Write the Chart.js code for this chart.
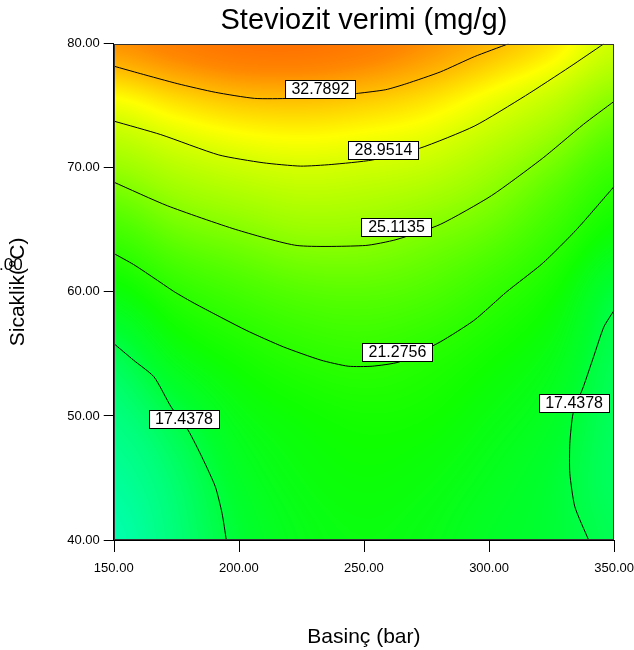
<!DOCTYPE html>
<html><head><meta charset="utf-8">
<script src="https://cdn.jsdelivr.net/npm/chart.js@4"></script>
<style>html,body{margin:0;padding:0;background:#fff;}#wrap{width:634px;height:650px;position:relative}</style>
</head><body><div id="wrap"><canvas id="c" width="634" height="650"></canvas></div>
<script>
// ---- data ----
const pressure = [150,175,200,225,250,275,300,325,350];      // Basinç (bar)
const temperature = [40,45,50,55,60,65,70,75,80];            // Sicaklik (°C)
const yieldRow40 = [14.0,16.0,17.8,18.9,19.3,19.0,18.3,17.8,17.0];
const yieldRow45 = [14.8,16.4,18.3,19.3,19.7,19.4,18.7,17.9,16.7];
const yieldRow50 = [15.8,17.4,19.1,19.9,20.3,20.1,19.3,18.4,16.8];
const yieldRow55 = [17.1,19.2,20.4,21.25,21.6,21.1,20.2,19.1,17.1];
const yieldRow60 = [19.5,21.3,22.4,23.2,23.4,22.9,21.7,20.2,17.7];
const yieldRow65 = [22.5,24.2,25.1,25.9,25.8,25.0,23.9,22.0,19.8];
const yieldRow70 = [25.9,27.4,28.4,28.9,28.6,28.0,26.4,24.3,22.0];
const yieldRow75 = [29.9,31.3,32.2,32.4,32.0,31.2,29.6,27.6,24.9];
const yieldRow80 = [34.5,35.6,36.5,36.6,35.9,34.6,33.1,31.4,28.5];

const xTicks = [150,200,250,300,350];
const yTicks = [40,50,60,70,80];

const c1Level = '32.7892';
const c1x = [150,160.6,175.6,190.6,206.3,220.6,239.6,247.8,258.7,266.9,280.5,294.1,307.8];
const c1y = [78.2,77.6,76.78,76.09,75.6,75.6,75.82,76.01,76.3,76.78,77.73,78.96,80];
const c2Level = '28.9514';
const c2x = [150,168.8,192,209.7,224.7,236.9,253.3,272.3,294.1,314.6,332.3,345.9];
const c2y = [73.77,72.68,71.04,70.41,70.14,70.27,70.63,71.58,73.36,75.82,78.14,80];
const c3Level = '25.1135';
const c3x = [150,171.5,198.8,223.3,250.5,262.8,280.5,301,321.4,337.7,350];
const c3y = [68.85,66.94,65.03,63.74,63.74,64.21,65.44,67.76,70.77,73.5,75.36];
const c4Level = '21.2756';
const c4x = [150,158,167.4,174.3,182.4,202.9,217.8,232.8,243.7,253.3,264.2,280.5,294.1,307,321.4,335,350];
const c4y = [63.1,62.2,60.94,60.0,59.06,56.91,55.57,54.5,54.01,54.01,54.36,55.97,57.72,60.0,62.3,65.03,68.5];
const c5Level = '17.4378';
const c5ax = [150,157.9,166.1,172.9,179.7,185.2,190.6,193.3,195];
const c5ay = [55.84,54.5,53.15,50.74,48.86,46.71,44.3,42.15,40];
const c5bx = [350,345.9,341.8,337.7,333.6,332.3,332.3,334.3,339.8];
const c5by = [58.52,57.18,54.77,52.35,50.2,47.79,45.37,42.68,40];

const labelText = [c1Level,c2Level,c3Level,c4Level,c5Level,c5Level];
const labelX = [232.6,257.8,263,263.4,178.1,334];
const labelY = [76.37,71.45,65.24,55.16,49.76,51.05];

// ---- colour ramp (style) ----
const stopVals = [13,16,18,20,23,26,29,30.5,33,35,36.5];
const stopCols = [[0,255,200],[0,255,120],[0,255,45],[15,255,0],[80,255,0],[155,255,0],[215,255,0],[255,255,0],[255,185,0],[255,135,0],[255,115,0]];

const yieldGrid = [yieldRow40,yieldRow45,yieldRow50,yieldRow55,yieldRow60,yieldRow65,yieldRow70,yieldRow75,yieldRow80];
const FONT = "'Liberation Sans', Arial, sans-serif";

function colorFor(z){
  if (z <= stopVals[0]) return stopCols[0];
  for (let k=1;k<stopVals.length;k++){
    if (z <= stopVals[k]){
      const t=(z-stopVals[k-1])/(stopVals[k]-stopVals[k-1]);
      const a=stopCols[k-1], b=stopCols[k];
      return [a[0]+(b[0]-a[0])*t, a[1]+(b[1]-a[1])*t, a[2]+(b[2]-a[2])*t];
    }
  }
  return stopCols[stopCols.length-1];
}
function cr(p0,p1,p2,p3,t){
  return 0.5*((2*p1)+(-p0+p2)*t+(2*p0-5*p1+4*p2-p3)*t*t+(-p0+3*p1-3*p2+p3)*t*t*t);
}
function gv(r,c){
  r=Math.max(0,Math.min(yieldGrid.length-1,r));
  c=Math.max(0,Math.min(pressure.length-1,c));
  return yieldGrid[r][c];
}
function sample(px,ty){
  const dx=pressure[1]-pressure[0], dy=temperature[1]-temperature[0];
  let fc=(px-pressure[0])/dx, fr=(ty-temperature[0])/dy;
  fc=Math.max(0,Math.min(pressure.length-1.0001,fc));
  fr=Math.max(0,Math.min(temperature.length-1.0001,fr));
  const c=Math.floor(fc), r=Math.floor(fr), tc=fc-c, tr=fr-r;
  const rows=[];
  for (let k=-1;k<=2;k++){
    rows.push(cr(gv(r+k,c-1),gv(r+k,c),gv(r+k,c+1),gv(r+k,c+2),tc));
  }
  return cr(rows[0],rows[1],rows[2],rows[3],tr);
}

const heatmap = {
  id:'heatmap',
  beforeDatasetsDraw(chart){
    const {ctx, chartArea:a, scales:{x,y}} = chart;
    const L=Math.round(a.left), T=Math.round(a.top), W=Math.round(a.right)-L, H=Math.round(a.bottom)-T;
    const img=ctx.createImageData(W,H);
    const d=img.data;
    for (let j=0;j<H;j++){
      const v=y.getValueForPixel(T+j+0.5);
      for (let i=0;i<W;i++){
        const u=x.getValueForPixel(L+i+0.5);
        const col=colorFor(sample(u,v));
        const o=(j*W+i)*4;
        d[o]=col[0]; d[o+1]=col[1]; d[o+2]=col[2]; d[o+3]=255;
      }
    }
    ctx.putImageData(img,L,T);
  },
  afterDatasetsDraw(chart){
    const {ctx, chartArea:a, scales:{x,y}} = chart;
    ctx.save();
    ctx.font = '16px ' + FONT;
    ctx.textAlign='center'; ctx.textBaseline='middle';
    for (let k=0;k<labelText.length;k++){
      const cx=x.getPixelForValue(labelX[k]), cy=y.getPixelForValue(labelY[k]);
      const w=70, h=18;
      ctx.fillStyle='#fff';
      ctx.fillRect(Math.round(cx-w/2)+0.5, Math.round(cy-h/2)+0.5, w, h);
      ctx.strokeStyle='#000'; ctx.lineWidth=1;
      ctx.strokeRect(Math.round(cx-w/2)+0.5, Math.round(cy-h/2)+0.5, w, h);
      ctx.fillStyle='#000';
      ctx.fillText(labelText[k], cx, cy+1);
    }
    ctx.strokeStyle='#333'; ctx.lineWidth=1;
    ctx.strokeRect(Math.round(a.left)+0.5, Math.round(a.top)+0.5, Math.round(a.right-a.left)-1, Math.round(a.bottom-a.top)-1);
    ctx.restore();
  },
  afterDraw(chart){
    const {ctx, chartArea:a, scales:{x}} = chart;
    ctx.save();
    // x tick marks
    ctx.strokeStyle='#000'; ctx.lineWidth=1;
    ctx.beginPath();
    for (const v of xTicks){
      const px=Math.round(x.getPixelForValue(v))+0.5;
      ctx.moveTo(px, a.bottom); ctx.lineTo(px, a.bottom+12);
    }
    ctx.stroke();
    ctx.font='17px '+FONT; ctx.fillStyle='#000'; ctx.textAlign='left'; ctx.textBaseline='alphabetic';
    ctx.fillText('.00', -1, 270);
    ctx.restore();
  }
};

function line(xs,ys){
  return {data: xs.map((v,i)=>({x:v,y:ys[i]})), showLine:true, borderColor:'#000', borderWidth:1,
          pointRadius:0, tension:0.2, fill:false};
}

new Chart(document.getElementById('c'), {
  type:'scatter',
  data:{datasets:[line(c1x,c1y),line(c2x,c2y),line(c3x,c3y),line(c4x,c4y),line(c5ax,c5ay),line(c5bx,c5by)]},
  options:{
    responsive:false, animation:false, devicePixelRatio:1,
    layout:{padding:{left:0,right:0,top:0,bottom:0}},
    plugins:{
      legend:{display:false}, tooltip:{enabled:false},
      title:{display:true, text:'Steviozit verimi (mg/g)', fullSize:false, color:'#000',
             font:{family:FONT, size:29, weight:'normal'}, padding:{top:4,bottom:5}}
    },
    scales:{
      x:{type:'linear', min:150, max:350, afterBuildTicks(s){ s.ticks = xTicks.map(v=>({value:v})); },
         ticks:{callback:v=>Number(v).toFixed(2), color:'#000', font:{family:FONT,size:13}, padding:0, maxRotation:0},
         grid:{display:true, drawOnChartArea:false, drawTicks:true, tickLength:21, color:'rgba(0,0,0,0)'},
         border:{display:true, color:'#000'},
         title:{display:true, text:'Basinç (bar)', color:'#000', font:{family:FONT,size:21}, padding:{top:47.8,bottom:0.4}}},
      y:{type:'linear', min:40, max:80, afterBuildTicks(s){ s.ticks = yTicks.map(v=>({value:v})); },
         ticks:{callback:v=>Number(v).toFixed(2), color:'#000', font:{family:FONT,size:13}, padding:4},
         grid:{display:true, drawOnChartArea:false, drawTicks:true, tickLength:10, color:'#000'},
         border:{display:true, color:'#000'},
         title:{display:true, text:'Sicaklik(°C)', color:'#000', font:{family:FONT,size:21}, padding:{top:6,bottom:32}}}
    }
  },
  plugins:[heatmap]
});
</script></body></html>
